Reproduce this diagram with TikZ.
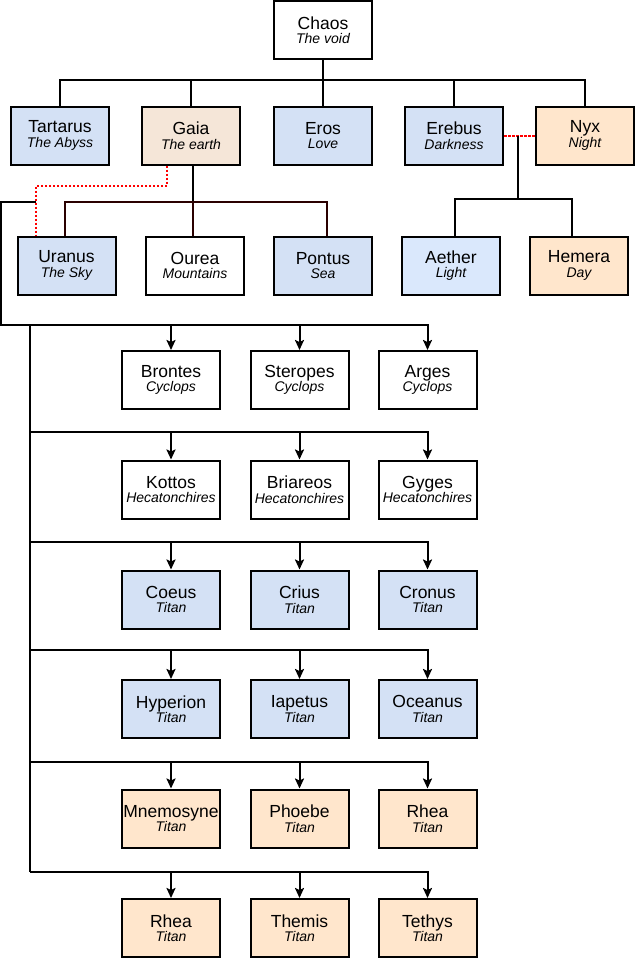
\documentclass[tikz,border=0pt]{standalone}
\usepackage{fontspec}
\setmainfont{Liberation Sans}
\usetikzlibrary{arrows.meta,calc}
\definecolor{godblue}{HTML}{D4E1F5}
\definecolor{lightblue}{HTML}{DAE8FC}
\definecolor{godpeach}{HTML}{FFE6CC}
\definecolor{earth}{HTML}{F5E6D8}
\definecolor{darkred}{HTML}{2A0000}
\newcommand{\role}[1]{{\fontsize{14}{14.5}\selectfont\itshape #1}}
\begin{document}
\begin{tikzpicture}[x=1pt,y=-1pt,
  god/.style={draw,line width=2pt,minimum width=98pt,minimum height=58pt,inner sep=0pt,
    align=center,font=\fontsize{17.5}{14.5}\selectfont},
  male/.style={god,fill=godblue},
  female/.style={god,fill=godpeach},
  link/.style={line width=2pt},
  spouse/.style={red,line width=2pt,dash pattern=on 2.5pt off 1.5pt},
  birth/.style={link,-{Stealth[length=10pt,width=9pt,inset=2pt]}}]
\useasboundingbox (0,0) rectangle (635,959);
% first generation
\node[god] (chaos) at (323,30) {Chaos\\\role{The void}};
\node[male] (tartarus) at (60,135.5) {Tartarus\\\role{The Abyss}};
\node[god,fill=earth] (gaia) at (191,135.5) {Gaia\\\role{The earth}};
\node[male] (eros) at (323,135.5) {Eros\\\role{Love}};
\node[male] (erebus) at (454,135.5) {Erebus\\\role{Darkness}};
\node[female] (nyx) at (585,135.5) {Nyx\\\role{Night}};
\coordinate (chaosbus) at (0,80);
\foreach \n in {tartarus,gaia,eros,erebus,nyx}
  \draw[link] (chaos.south) |- (\n.north |- chaosbus) -- (\n.north);
% children of gaia, erebus and nyx
\node[male] (uranus) at (66.5,265.5) {Uranus\\\role{The Sky}};
\node[god] (ourea) at (195,265.5) {Ourea\\\role{Mountains}};
\node[male] (pontus) at (323,265.5) {Pontus\\\role{Sea}};
\node[god,fill=lightblue] (aether) at (451,265.5) {Aether\\\role{Light}};
\node[female] (hemera) at (579,265.5) {Hemera\\\role{Day}};
\draw[link] ([xshift=2pt]gaia.south) -- ++(0,36) coordinate (gaiabus);
\draw[link,darkred] ([xshift=-1.5pt]uranus.north) |- (gaiabus) -| ([xshift=4pt]pontus.north);
\draw[link,darkred] (gaiabus) -- ([xshift=-2pt]ourea.north);
\draw[spouse] ([xshift=-24pt]gaia.south) -- ++(0,20) -| ([xshift=-30.5pt]uranus.north);
\draw[spouse] (erebus.east) -- (nyx.west);
\coordinate (night) at ($(erebus.east)!0.45!(nyx.west)$);
\draw[link] (night) -- ++(0,63) coordinate (nightbus);
\draw[link] ([xshift=4pt]aether.north) |- (nightbus) -| ([xshift=-7pt]hemera.north);
% children of uranus and gaia
\coordinate (uranusline) at (36,202);
\draw[link] (uranusline) -| (1,325) -- (30,325);
\draw[link] (30,325) -- (30,872);
\node[god] (brontes) at (171,380) {Brontes\\\role{Cyclops}};
\node[god] (steropes) at (299.5,380) {Steropes\\\role{Cyclops}};
\node[god] (arges) at (427.5,380) {Arges\\\role{Cyclops}};
\node[god] (kottos) at (171,489.5) {Kottos\\\role{Hecatonchires}};
\node[god] (briareos) at (299.5,489.5) {Briareos\\\role{Hecatonchires}};
\node[god] (gyges) at (427.5,489.5) {Gyges\\\role{Hecatonchires}};
\node[male] (coeus) at (171,599.5) {Coeus\\\role{Titan}};
\node[male] (crius) at (299.5,599.5) {Crius\\\role{Titan}};
\node[male] (cronus) at (427.5,599.5) {Cronus\\\role{Titan}};
\node[male] (hyperion) at (171,709) {Hyperion\\\role{Titan}};
\node[male] (iapetus) at (299.5,709) {Iapetus\\\role{Titan}};
\node[male] (oceanus) at (427.5,709) {Oceanus\\\role{Titan}};
\node[female] (mnemosyne) at (171,818.5) {Mnemosyne\\\role{Titan}};
\node[female] (phoebe) at (299.5,818.5) {Phoebe\\\role{Titan}};
\node[female] (rhea) at (427.5,818.5) {Rhea\\\role{Titan}};
\node[female] (rheatwo) at (171,928) {Rhea\\\role{Titan}};
\node[female] (themis) at (299.5,928) {Themis\\\role{Titan}};
\node[female] (tethys) at (427.5,928) {Tethys\\\role{Titan}};
\foreach \y/\a/\b/\c in {325/brontes/steropes/arges,432/kottos/briareos/gyges,
    542/coeus/crius/cronus,650/hyperion/iapetus/oceanus,
    762/mnemosyne/phoebe/rhea,872/rheatwo/themis/tethys}
  \foreach \n in {\a,\b,\c}
    \draw[birth] (30,\y) -| (\n.north);
\end{tikzpicture}
\end{document}
